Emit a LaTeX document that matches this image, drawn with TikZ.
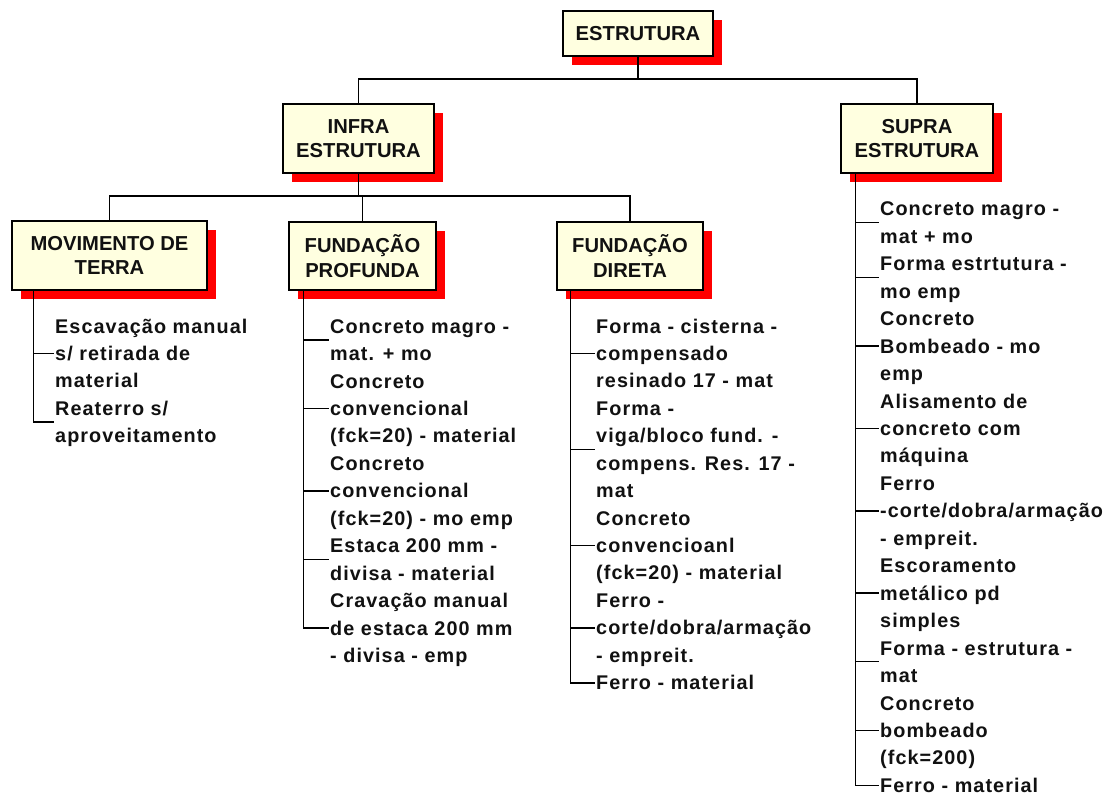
\documentclass[tikz,border=0pt]{standalone}
\usepackage{fontspec}
\usetikzlibrary{shadows}
\setmainfont{Liberation Sans}
\newfontfamily\leafface{Liberation Sans}[LetterSpace=5.4]
\definecolor{boxfill}{HTML}{FFFFE0}
\definecolor{shadowred}{HTML}{FF0000}
\definecolor{ink}{HTML}{111111}
\newcommand\boxfont{\fontsize{20.2}{24.7}\selectfont\bfseries}
\newcommand\leaffont[1]{\leafface\bfseries\fontsize{19.8}{#1}\selectfont\lineskiplimit=-100pt\relax}
% strut spanning exactly one text row
\newcommand\rowstrut{\rule[-0.245\baselineskip]{0pt}{\baselineskip}}
\begin{document}
\begin{tikzpicture}[x=1pt,y=-1pt,
  box/.style={draw=black, line width=1.5pt, fill=boxfill, text=ink, font=\boxfont,
    align=center, inner sep=0pt,
    drop shadow={shadow xshift=9pt, shadow yshift=-9pt, fill=shadowred, opacity=1}},
  leaf/.style={font=\leaffont{27.3pt}, text=ink, align=left, anchor=north west,
    inner xsep=1pt, inner ysep=0pt},
  wire/.style={line width=1.5pt, black}]
\useasboundingbox (0,0) rectangle (1104,796);
\fill[white] (0,0) rectangle (1104,796);

% boxes
\node[box, minimum width=150pt, minimum height=45pt] (top) at (638,33.5) {ESTRUTURA};
\node[box, minimum width=151pt, minimum height=69pt] (infra) at (358.5,138.5) {INFRA\\ESTRUTURA};
\node[box, minimum width=152pt, minimum height=69pt] (supra) at (917,138.5) {SUPRA\\ESTRUTURA};
\node[box, minimum width=195pt, minimum height=69pt] (mov) at (109.5,255.5) {MOVIMENTO DE\\TERRA};
\node[box, minimum width=147pt, minimum height=68pt] (prof) at (362.5,256) {FUNDAÇÃO\\PROFUNDA};
\node[box, minimum width=146pt, minimum height=68pt] (dir) at (630,256) {FUNDAÇÃO\\DIRETA};

% tree connectors
\coordinate (hub1) at (638,79);
\coordinate (hub2) at (358.5,196);
\draw[wire] (top.south) -- (hub1);
\draw[wire] (infra.north) |- (hub1) -| (supra.north);
\draw[wire] (infra.south) -- (hub2);
\draw[wire] (mov.north) |- (hub2) -| (dir.north);
\draw[wire] (prof.north) -- (prof.north |- hub2);

% MOVIMENTO DE TERRA
\node[leaf] (m1) at (54,312.4) {\rowstrut Escavação manual\\\rowstrut s/ retirada de\\\rowstrut material};
\node[leaf] (m2) at (m1.south west) {\rowstrut Reaterro s/\\\rowstrut aproveitamento};
\coordinate (movroot) at ([xshift=22pt]mov.south west);
\draw[wire] (movroot) |- (m2.west);
\draw[wire] (movroot |- m1.west) -- (m1.west);

% FUNDACAO PROFUNDA
\node[leaf] (p1) at (329,312.4) {\rowstrut Concreto magro -\\\rowstrut mat. + mo};
\node[leaf] (p2) at (p1.south west) {\rowstrut Concreto\\\rowstrut convencional\\\rowstrut (fck=20) - material};
\node[leaf] (p3) at (p2.south west) {\rowstrut Concreto\\\rowstrut convencional\\\rowstrut (fck=20) - mo emp};
\node[leaf] (p4) at (p3.south west) {\rowstrut Estaca 200 mm -\\\rowstrut divisa - material};
\node[leaf] (p5) at (p4.south west) {\rowstrut Cravação manual\\\rowstrut de estaca 200 mm\\\rowstrut - divisa - emp};
\coordinate (profroot) at ([xshift=15pt]prof.south west);
\draw[wire] (profroot) |- (p5.west);
\foreach \n in {p1,p2,p3,p4} \draw[wire] (profroot |- \n.west) -- (\n.west);

% FUNDACAO DIRETA
\node[leaf] (d1) at (595,312.4) {\rowstrut Forma - cisterna -\\\rowstrut compensado\\\rowstrut resinado 17 - mat};
\node[leaf] (d2) at (d1.south west) {\rowstrut Forma -\\\rowstrut viga/bloco fund. -\\\rowstrut compens. Res. 17 -\\\rowstrut mat};
\node[leaf] (d3) at (d2.south west) {\rowstrut Concreto\\\rowstrut convencioanl\\\rowstrut (fck=20) - material};
\node[leaf] (d4) at (d3.south west) {\rowstrut Ferro -\\\rowstrut corte/dobra/armação\\\rowstrut - empreit.};
\node[leaf] (d5) at (d4.south west) {\rowstrut Ferro - material};
\coordinate (dirroot) at ([xshift=14pt]dir.south west);
\draw[wire] (dirroot) |- (d5.west);
\foreach \n in {d1,d2,d3,d4} \draw[wire] (dirroot |- \n.west) -- (\n.west);

% SUPRA ESTRUTURA
\node[leaf] (s1) at (879,195) {\rowstrut Concreto magro -\\\rowstrut mat + mo};
\node[leaf] (s2) at (s1.south west) {\rowstrut Forma estrtutura -\\\rowstrut mo emp};
\node[leaf] (s3) at (s2.south west) {\rowstrut Concreto\\\rowstrut Bombeado - mo\\\rowstrut emp};
\node[leaf] (s4) at (s3.south west) {\rowstrut Alisamento de\\\rowstrut concreto com\\\rowstrut máquina};
\node[leaf] (s5) at (s4.south west) {\rowstrut Ferro\\\rowstrut -corte/dobra/armação\\\rowstrut - empreit.};
\node[leaf] (s6) at (s5.south west) {\rowstrut Escoramento\\\rowstrut metálico pd\\\rowstrut simples};
\node[leaf] (s7) at (s6.south west) {\rowstrut Forma - estrutura -\\\rowstrut mat};
\node[leaf] (s8) at (s7.south west) {\rowstrut Concreto\\\rowstrut bombeado\\\rowstrut (fck=200)};
\node[leaf] (s9) at (s8.south west) {\rowstrut Ferro - material};
\coordinate (supraroot) at ([xshift=15pt]supra.south west);
\draw[wire] (supraroot) |- (s9.west);
\foreach \n in {s1,s2,s3,s4,s5,s6,s7,s8} \draw[wire] (supraroot |- \n.west) -- (\n.west);
\end{tikzpicture}
\end{document}
